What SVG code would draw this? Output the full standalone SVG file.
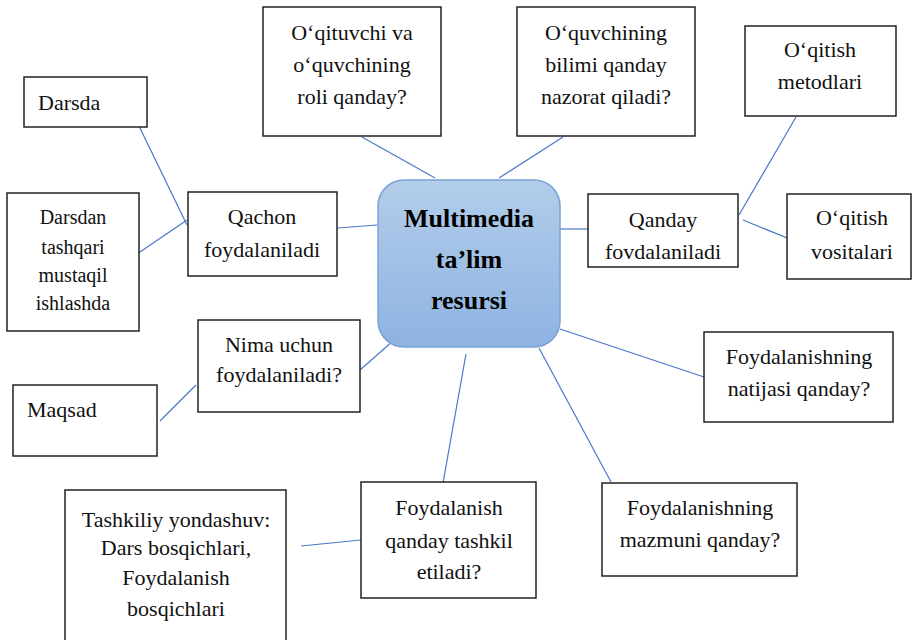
<svg xmlns="http://www.w3.org/2000/svg" width="912" height="640" viewBox="0 0 912 640">
<defs>
<linearGradient id="g" x1="0" y1="0" x2="0" y2="1">
<stop offset="0" stop-color="#b3cdea"/>
<stop offset="1" stop-color="#8eb3e2"/>
</linearGradient>
</defs>
<style>
.b{fill:#fff;stroke:#222;stroke-width:1.5}
.t{font-family:"Liberation Serif",serif;font-size:22px;fill:#111;text-anchor:middle}
.s{font-size:20px}
.l{text-anchor:start}
.c{stroke:#4a78c8;stroke-width:1.2;fill:none}
.m{font-family:"Liberation Serif",serif;font-size:26px;font-weight:bold;fill:#000;text-anchor:middle}
</style>
<rect width="912" height="640" fill="#fff"/>
<g id="connectors">
<line class="c" x1="139" y1="126" x2="187" y2="225"/>
<line class="c" x1="137" y1="254" x2="187" y2="220"/>
<line class="c" x1="338" y1="228" x2="377" y2="225"/>
<line class="c" x1="362" y1="137" x2="435" y2="178"/>
<line class="c" x1="563" y1="137" x2="499" y2="178"/>
<line class="c" x1="558" y1="229" x2="588" y2="229"/>
<line class="c" x1="796" y1="117" x2="739" y2="215"/>
<line class="c" x1="743" y1="220" x2="797" y2="242"/>
<line class="c" x1="560" y1="329" x2="704" y2="377"/>
<line class="c" x1="539" y1="348" x2="611" y2="482"/>
<line class="c" x1="466" y1="354" x2="443" y2="483"/>
<line class="c" x1="360" y1="370" x2="393" y2="341"/>
<line class="c" x1="160" y1="421" x2="196" y2="385"/>
<line class="c" x1="301" y1="546" x2="361" y2="540"/>
</g>
<g id="center">
<rect x="378" y="180" width="182" height="167" rx="26" fill="url(#g)" stroke="#7aa2d6" stroke-width="1.5"/>
<text class="m" x="469" y="227">Multimedia</text>
<text class="m" x="469" y="268">ta’lim</text>
<text class="m" x="469" y="309">resursi</text>
</g>
<g id="darsda">
<rect class="b" x="24" y="77" width="123" height="50"/>
<text class="t l" x="38" y="110">Darsda</text>
</g>
<g id="darsdan">
<rect class="b" x="7" y="193" width="132" height="138"/>
<text class="t s" x="73" y="224">Darsdan</text>
<text class="t s" x="73" y="254">tashqari</text>
<text class="t s" x="73" y="282">mustaqil</text>
<text class="t s" x="73" y="310">ishlashda</text>
</g>
<g id="qachon">
<rect class="b" x="188" y="192" width="149" height="84"/>
<text class="t" x="262" y="224">Qachon</text>
<text class="t" x="262" y="257">foydalaniladi</text>
</g>
<g id="oqituvchi">
<rect class="b" x="263" y="7" width="178" height="129"/>
<text class="t" x="352" y="40">O‘qituvchi va</text>
<text class="t" x="352" y="72">o‘quvchining</text>
<text class="t" x="352" y="104">roli qanday?</text>
</g>
<g id="oquvchining">
<rect class="b" x="517" y="7" width="178" height="129"/>
<text class="t" x="606" y="40">O‘quvchining</text>
<text class="t" x="606" y="72">bilimi qanday</text>
<text class="t" x="606" y="104">nazorat qiladi?</text>
</g>
<g id="metodlari">
<rect class="b" x="745" y="26" width="151" height="90"/>
<text class="t" x="820" y="57">O‘qitish</text>
<text class="t" x="820" y="89">metodlari</text>
</g>
<g id="qanday">
<rect class="b" x="588" y="194" width="150" height="73"/>
<text class="t" x="663" y="227">Qanday</text>
<text class="t" x="663" y="259">fovdalaniladi</text>
</g>
<g id="vositalari">
<rect class="b" x="787" y="194" width="124" height="85"/>
<text class="t" x="852" y="225">O‘qitish</text>
<text class="t" x="852" y="259">vositalari</text>
</g>
<g id="nima">
<rect class="b" x="198" y="320" width="162" height="92"/>
<text class="t" x="279" y="352">Nima uchun</text>
<text class="t" x="279" y="382">foydalaniladi?</text>
</g>
<g id="maqsad">
<rect class="b" x="13" y="385" width="144" height="71"/>
<text class="t l" x="27" y="417">Maqsad</text>
</g>
<g id="natijasi">
<rect class="b" x="704" y="332" width="189" height="90"/>
<text class="t" x="799" y="364">Foydalanishning</text>
<text class="t" x="799" y="396">natijasi qanday?</text>
</g>
<g id="tashkiliy">
<rect class="b" x="65" y="490" width="221" height="160"/>
<text class="t" x="176" y="527">Tashkiliy yondashuv:</text>
<text class="t" x="176" y="555">Dars bosqichlari,</text>
<text class="t" x="176" y="585">Foydalanish</text>
<text class="t" x="176" y="616">bosqichlari</text>
</g>
<g id="tashkil">
<rect class="b" x="361" y="482" width="175" height="116"/>
<text class="t" x="449" y="515">Foydalanish</text>
<text class="t" x="449" y="548">qanday tashkil</text>
<text class="t" x="449" y="579">etiladi?</text>
</g>
<g id="mazmuni">
<rect class="b" x="602" y="483" width="195" height="93"/>
<text class="t" x="700" y="515">Foydalanishning</text>
<text class="t" x="700" y="547">mazmuni qanday?</text>
</g>
</svg>
